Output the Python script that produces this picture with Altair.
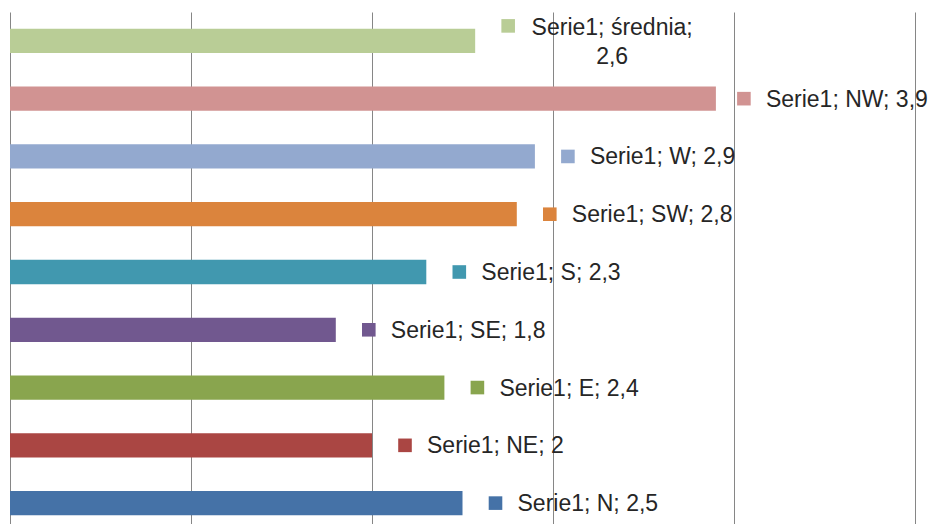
import altair as alt
import pandas as pd

categories = ["N", "NE", "E", "SE", "S", "SW", "W", "NW", "średnia"]
values = [2.5, 2.0, 2.4, 1.8, 2.3, 2.8, 2.9, 3.9, 2.57]
colors = ["#4572A7", "#AA4643", "#89A54E", "#71588F", "#4198AF",
          "#DB843D", "#93A9CF", "#D19392", "#B9CD96"]
series_name = "Serie1"

order = list(reversed(categories))


def fmt(v):
    return f"{round(v, 1):g}".replace(".", ",")


df = pd.DataFrame({
    "cat": categories,
    "val": values,
})
df["label"] = [f"{series_name}; {c}; {fmt(v)}" for c, v in zip(categories, values)]
df.loc[df["cat"] == "średnia", "label"] = (
    f"{series_name}; średnia;\n" + fmt(values[-1])
)

color_scale = alt.Scale(domain=categories, range=colors)
x_scale = alt.Scale(domain=[0, 5], nice=False, zero=True)
y_enc = alt.Y("cat:N", sort=order, axis=None,
              scale=alt.Scale(paddingInner=0.58, paddingOuter=0.29))

base = alt.Chart(df)
is_avg = alt.datum.cat == "średnia"
is_nw = alt.datum.cat == "NW"
regular = (alt.datum.cat != "średnia") & (alt.datum.cat != "NW")

bars = base.mark_bar().encode(
    x=alt.X("val:Q", scale=x_scale,
            axis=alt.Axis(values=[0, 1, 2, 3, 4, 5], labels=False, ticks=False,
                          domain=False, title=None, grid=True,
                          gridColor="#868686", gridWidth=1, gridOpacity=1)),
    y=y_enc,
    color=alt.Color("cat:N", scale=color_scale, legend=None),
)

enc_pos = dict(x="val:Q", y=alt.Y("cat:N", sort=order))
enc_col = alt.Color("cat:N", scale=color_scale, legend=None)

squares = base.transform_filter(regular).mark_square(
    size=185, opacity=1, xOffset=33
).encode(color=enc_col, **enc_pos)

squares_nw = base.transform_filter(is_nw).mark_square(
    size=185, opacity=1, xOffset=28
).encode(color=enc_col, **enc_pos)

squares_avg = base.transform_filter(is_avg).mark_square(
    size=185, opacity=1, xOffset=33, yOffset=-15
).encode(color=enc_col, **enc_pos)

text_style = dict(baseline="middle", fontSize=23, font="Liberation Sans",
                  color="#262626")

labels = base.transform_filter(regular).mark_text(
    align="left", dx=55, dy=1, **text_style
).encode(text="label:N", **enc_pos)

labels_nw = base.transform_filter(is_nw).mark_text(
    align="left", dx=50, dy=1, **text_style
).encode(text="label:N", **enc_pos)

labels_avg = base.transform_filter(is_avg).mark_text(
    align="center", dx=137, dy=-13, lineBreak="\n", lineHeight=29, **text_style
).encode(text="label:N", **enc_pos)

chart = alt.layer(
    bars, squares, squares_nw, squares_avg, labels, labels_nw, labels_avg
).properties(
    width=905, height=520,
    padding={"left": 2, "top": 4, "right": 13, "bottom": 0},
    autosize=alt.AutoSizeParams(type="none"),
).configure_view(stroke=None).configure_axis(zindex=0)

chart.save("out.html", embed_options={"renderer": "svg", "actions": False})
